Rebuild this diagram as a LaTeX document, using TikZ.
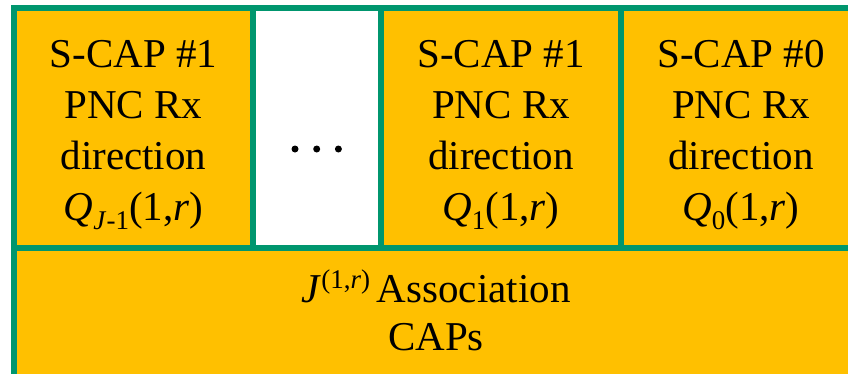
\documentclass[tikz,border=0pt]{standalone}
\usepackage{fontspec}
\setmainfont{Liberation Serif}
\definecolor{capyellow}{RGB}{255,192,0}
\definecolor{capgreen}{RGB}{0,150,110}
\newcommand{\bigtxt}{\fontsize{41}{51.5}\selectfont}
\newcommand{\smalltxt}{\fontsize{27}{27}\selectfont}
\begin{document}
\begin{tikzpicture}[x=1pt,y=-1pt,
  cellbox/.style={rectangle,draw=capgreen,fill=capyellow,line width=5.5pt,inner sep=0pt,outer sep=0pt,anchor=north west},
  emptybox/.style={cellbox,fill=white},
  txt/.style={anchor=base,inner sep=0pt,font=\bigtxt,text=black},
  dotmark/.style={circle,fill=black,inner sep=0pt,minimum size=7pt}]
\useasboundingbox (0,0) rectangle (848,373);
\clip (0,0) rectangle (848,373);
% bottom row
\node[cellbox,minimum width=847pt,minimum height=240pt] (bot) at (14,248) {};
% top row
\node[cellbox,minimum width=239pt,minimum height=240pt] (c1) at (14,8) {};
\node[emptybox,minimum width=128pt,minimum height=240pt] (c2) at (253,8) {};
\node[cellbox,minimum width=240pt,minimum height=240pt] (c3) at (381,8) {};
\node[cellbox,minimum width=240pt,minimum height=240pt] (c4) at (621,8) {};
% cell 1 text
\node[txt] (c1a) at (133.5,67) {S-CAP \#1};
\node[txt] (c1b) at (133.5,118) {PNC Rx};
\node[txt] (c1c) at (133.5,169) {direction};
\node[txt] (c1d) at (133.5,220) {\textit{Q}\raisebox{-9pt}{\smalltxt\textit{J}-1}(1,\textit{r})};
% dots
\node[dotmark] (d1) at (295,149) {};
\node[dotmark] (d2) at (316.7,149) {};
\node[dotmark] (d3) at (338.4,149) {};
% cell 3 text
\node[txt] (c3a) at (501,67) {S-CAP \#1};
\node[txt] (c3b) at (501,118) {PNC Rx};
\node[txt] (c3c) at (501,169) {direction};
\node[txt] (c3d) at (501,220) {\textit{Q}\raisebox{-9pt}{\smalltxt 1}(1,\textit{r})};
% cell 4 text
\node[txt] (c4a) at (741,67) {S-CAP \#0};
\node[txt] (c4b) at (741,118) {PNC Rx};
\node[txt] (c4c) at (741,169) {direction};
\node[txt] (c4d) at (741,220) {\textit{Q}\raisebox{-9pt}{\smalltxt 0}(1,\textit{r})};
% bottom text
\node[txt] (ba) at (436,302) {\textit{J}\raisebox{14pt}{\smalltxt(1,\textit{r})}\,Association};
\node[txt] (bb) at (436,350) {CAPs};
\end{tikzpicture}
\end{document}
